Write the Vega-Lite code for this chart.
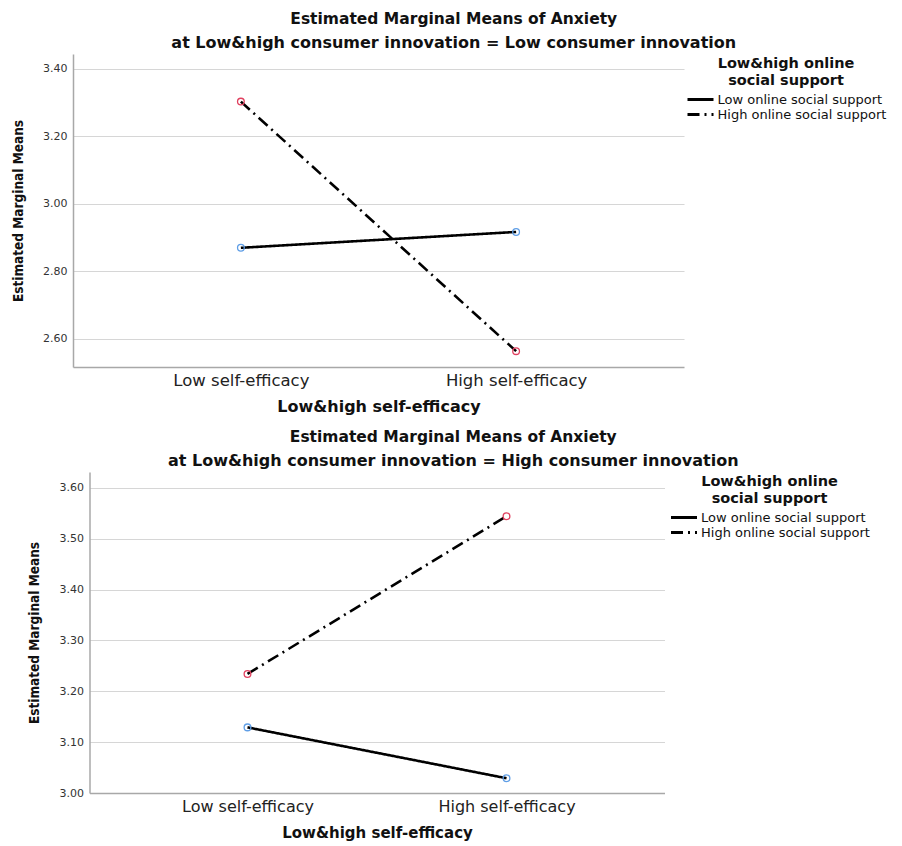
{
  "$schema": "https://vega.github.io/schema/vega-lite/v6.json",
  "background": "white",
  "padding": {"left": 11, "top": 11, "right": 5, "bottom": 5},
  "datasets": {
    "low_ci": [
      {"se": "Low self-efficacy", "oss": "Low online social support", "mean": 2.870},
      {"se": "High self-efficacy", "oss": "Low online social support", "mean": 2.917},
      {"se": "Low self-efficacy", "oss": "High online social support", "mean": 3.303},
      {"se": "High self-efficacy", "oss": "High online social support", "mean": 2.564}
    ],
    "high_ci": [
      {"se": "Low self-efficacy", "oss": "Low online social support", "mean": 3.129},
      {"se": "High self-efficacy", "oss": "Low online social support", "mean": 3.029},
      {"se": "Low self-efficacy", "oss": "High online social support", "mean": 3.234},
      {"se": "High self-efficacy", "oss": "High online social support", "mean": 3.544}
    ]
  },
  "config": {
    "font": "DejaVu Sans",
    "view": {"stroke": null},
    "axis": {
      "gridColor": "#d6d6d6",
      "gridWidth": 1.2,
      "domainColor": "#a8a8a8",
      "domainWidth": 1.5,
      "ticks": false,
      "labelColor": "#333333",
      "titleColor": "#111111",
      "titleFontWeight": "bold"
    },
    "title": {
      "font": "DejaVu Sans",
      "fontSize": 15.5,
      "fontWeight": "bold",
      "color": "#111111",
      "subtitleFont": "DejaVu Sans",
      "subtitleFontSize": 16,
      "subtitleFontWeight": "bold",
      "subtitleColor": "#111111",
      "subtitlePadding": 8,
      "anchor": "middle",
      "frame": "bounds",
      "offset": 3,
      "dx": 3
    },
    "legend": {
      "orient": "right",
      "offset": -1,
      "padding": 3,
      "titleFont": "DejaVu Sans",
      "titleFontSize": 14.5,
      "titleFontWeight": "bold",
      "titleColor": "#111111",
      "titleAnchor": "middle",
      "titleAlign": "center",
      "titleLimit": 300,
      "titleLineHeight": 17,
      "titlePadding": 3,
      "labelFontSize": 13,
      "labelColor": "#111111",
      "labelLimit": 300,
      "labelOffset": 9,
      "symbolType": "M-2,0H2",
      "symbolOffset": 6.5,
      "symbolStrokeColor": "black",
      "symbolStrokeWidth": 3,
      "symbolSize": 169,
      "rowPadding": -1
    }
  },
  "spacing": 14,
  "center": true,
  "resolve": {
    "scale": {"strokeDash": "independent"},
    "legend": {"strokeDash": "independent"}
  },
  "vconcat": [
    {
      "width": 611,
      "height": 313,
      "title": {
        "text": "Estimated Marginal Means of Anxiety",
        "subtitle": "at Low&high consumer innovation = Low consumer innovation"
      },
      "data": {"name": "low_ci"},
      "encoding": {
        "x": {
          "field": "se",
          "type": "nominal",
          "sort": ["Low self-efficacy", "High self-efficacy"],
          "scale": {"type": "point", "padding": 0.61},
          "axis": {
            "title": "Low&high self-efficacy",
            "labelAngle": 0,
            "labelFontSize": 16.5,
            "labelColor": "#222222",
            "labelPadding": 5,
            "titleFontSize": 16,
            "titlePadding": 10,
            "grid": false
          }
        },
        "y": {
          "field": "mean",
          "type": "quantitative",
          "scale": {"domain": [2.517, 3.444], "nice": false, "zero": false},
          "axis": {
            "title": "Estimated Marginal Means",
            "values": [2.6, 2.8, 3.0, 3.2, 3.4],
            "format": ".2f",
            "labelFontSize": 11,
            "labelPadding": 6,
            "titleFont": "'DejaVu Sans Condensed', 'Liberation Sans Narrow', sans-serif",
            "titleFontSize": 13.5,
            "titlePadding": 17
          }
        }
      },
      "layer": [
        {
          "mark": {"type": "line", "color": "black", "strokeWidth": 2.6},
          "encoding": {
            "strokeDash": {
              "field": "oss",
              "type": "nominal",
              "sort": ["Low online social support", "High online social support"],
              "scale": {
                "domain": ["Low online social support", "High online social support"],
                "range": [[1, 0], [12, 5, 2, 5]]
              },
              "legend": {"title": ["Low&high online", "social support"]}
            }
          }
        },
        {
          "mark": {"type": "point", "shape": "circle", "filled": false, "size": 45, "strokeWidth": 1.3, "opacity": 1},
          "encoding": {
            "stroke": {
              "condition": {"test": "datum.oss === 'High online social support'", "value": "#e0405f"},
              "value": "#5f9ee6"
            }
          }
        }
      ]
    },
    {
      "width": 575,
      "height": 321,
      "title": {
        "text": "Estimated Marginal Means of Anxiety",
        "subtitle": "at Low&high consumer innovation = High consumer innovation"
      },
      "data": {"name": "high_ci"},
      "encoding": {
        "x": {
          "field": "se",
          "type": "nominal",
          "sort": ["Low self-efficacy", "High self-efficacy"],
          "scale": {"type": "point", "padding": 0.61},
          "axis": {
            "title": "Low&high self-efficacy",
            "labelAngle": 0,
            "labelFontSize": 16,
            "labelColor": "#222222",
            "labelPadding": 5,
            "titleFontSize": 15,
            "titlePadding": 11,
            "grid": false
          }
        },
        "y": {
          "field": "mean",
          "type": "quantitative",
          "scale": {"domain": [3.0, 3.631], "nice": false, "zero": false},
          "axis": {
            "title": "Estimated Marginal Means",
            "values": [3.0, 3.1, 3.2, 3.3, 3.4, 3.5, 3.6],
            "format": ".2f",
            "labelFontSize": 11,
            "labelPadding": 6,
            "titleFont": "'DejaVu Sans Condensed', 'Liberation Sans Narrow', sans-serif",
            "titleFontSize": 13.5,
            "titlePadding": 18
          }
        }
      },
      "layer": [
        {
          "mark": {"type": "line", "color": "black", "strokeWidth": 2.6},
          "encoding": {
            "strokeDash": {
              "field": "oss",
              "type": "nominal",
              "sort": ["Low online social support", "High online social support"],
              "scale": {
                "domain": ["Low online social support", "High online social support"],
                "range": [[1, 0], [12, 5, 2, 5]]
              },
              "legend": {"title": ["Low&high online", "social support"], "offset": 2}
            }
          }
        },
        {
          "mark": {"type": "point", "shape": "circle", "filled": false, "size": 45, "strokeWidth": 1.3, "opacity": 1},
          "encoding": {
            "stroke": {
              "condition": {"test": "datum.oss === 'High online social support'", "value": "#e0405f"},
              "value": "#5f9ee6"
            }
          }
        }
      ]
    }
  ]
}
